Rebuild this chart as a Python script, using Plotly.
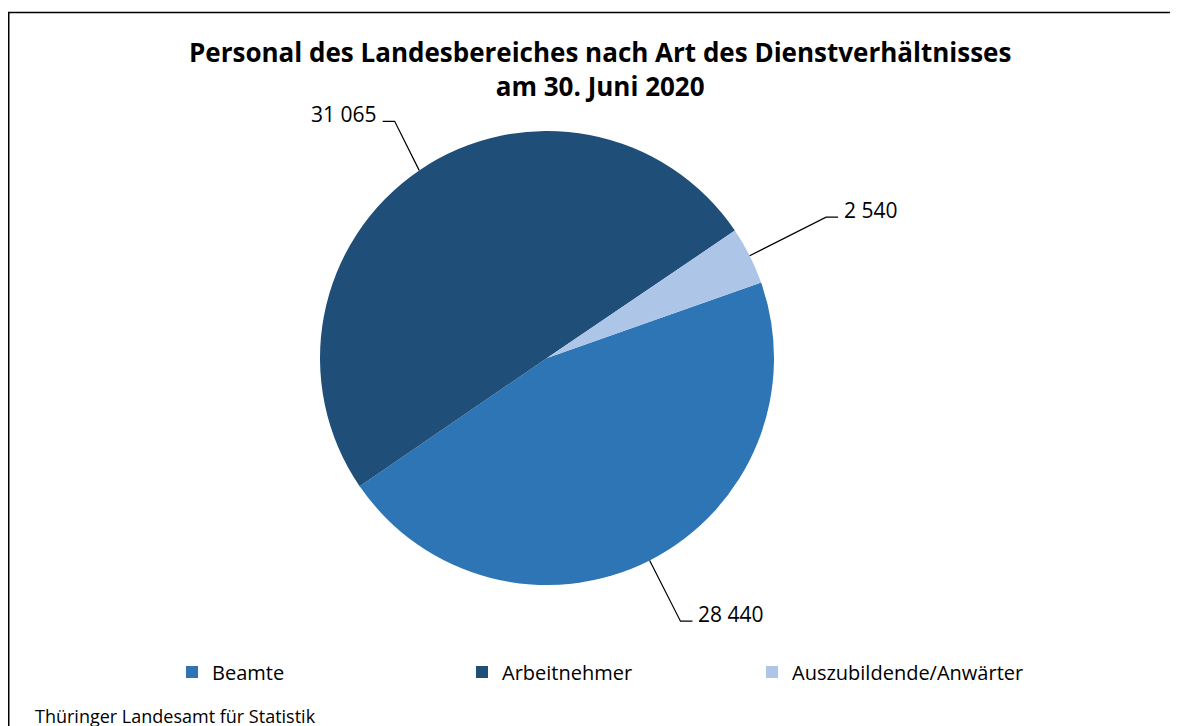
import math
import plotly.graph_objects as go

# ---- data ----
categories = ["Beamte", "Arbeitnehmer", "Auszubildende/Anwärter"]
values = [28440, 31065, 2540]
value_labels = ["28 440", "31 065", "2 540"]

title_text = "<b>Personal des Landesbereiches nach Art des Dienstverhältnisses<br>am 30. Juni 2020</b>"
source_text = "Thüringer Landesamt für Statistik"

# ---- style ----
colors = ["#2E75B6", "#1F4E79", "#ADC6E7"]
FONT = "Open Sans"
W, H = 1178, 726
OFF = 8                            # page offset of the figure (body margin)
cx, cy, R = 547, 358, 227          # pie centre / radius in page pixels
rotation = 70.6                    # start angle of first slice (clockwise from 12 o'clock)
elbow_factor = [1.30, 1.24, 1.377] # leader line elbow radius / R
elbow_turn = [0.0, 1.5, 0.0]       # small angular tweak of the elbow (degrees)
label_side = [1, -1, 1]            # +1 label to the right, -1 to the left


def px(x):
    return (x - OFF) / W


def py(y):
    return 1 - (y - OFF) / H


fig = go.Figure()
fig.add_trace(go.Pie(
    labels=categories,
    values=values,
    sort=False,
    direction="clockwise",
    rotation=rotation,
    marker=dict(colors=colors, line=dict(width=0)),
    textinfo="none",
    hoverinfo="label+value",
    domain=dict(x=[px(cx - R), px(cx + R)], y=[py(cy + R), py(cy - R)]),
))

# leader lines + value labels computed from the slice angles
total = sum(values)
cum = 0.0
shapes = []
annotations = []
for v, lab, f, turn, side in zip(values, value_labels, elbow_factor, elbow_turn, label_side):
    mid_deg = rotation + 360.0 * (cum + v / 2.0) / total
    cum += v
    mid = math.radians(mid_deg)
    el = math.radians(mid_deg + turn)
    x0 = cx + R * math.sin(mid)
    y0 = cy - R * math.cos(mid)
    x1 = cx + R * f * math.sin(el)
    y1 = cy - R * f * math.cos(el)
    x2 = x1 + side * 12
    shapes.append(dict(
        type="path", xref="paper", yref="paper",
        path=f"M {px(x0)},{py(y0)} L {px(x1)},{py(y1)} L {px(x2)},{py(y1)}",
        line=dict(color="#000000", width=1.2),
    ))
    annotations.append(dict(
        xref="paper", yref="paper",
        x=px(x2 + side * 4), y=py(y1 - 7),
        xanchor="left" if side > 0 else "right", yanchor="middle",
        text=lab, showarrow=False,
        font=dict(family=FONT, size=21, color="#000000"),
    ))

# frame
shapes.append(dict(
    type="rect", xref="paper", yref="paper",
    x0=px(8.75), x1=px(1177), y0=-0.05, y1=py(12.5),
    line=dict(color="#000000", width=1.5), fillcolor="rgba(0,0,0,0)",
    layer="below",
))

# title
annotations.append(dict(
    xref="paper", yref="paper", x=px(600), y=py(69),
    xanchor="center", yanchor="middle",
    text=title_text, showarrow=False,
    font=dict(family=FONT, size=26, color="#000000"),
))
# source
annotations.append(dict(
    xref="paper", yref="paper", x=px(33), y=py(716),
    xanchor="left", yanchor="middle",
    text=source_text, showarrow=False,
    font=dict(family=FONT, size=18, color="#000000"),
))

fig.update_layout(
    width=W, height=H,
    margin=dict(l=0, r=0, t=0, b=0),
    paper_bgcolor="white",
    plot_bgcolor="white",
    shapes=shapes,
    annotations=annotations,
    showlegend=True,
    legend=dict(
        orientation="h",
        x=px(172), y=py(672),
        xanchor="left", yanchor="middle",
        font=dict(family=FONT, size=20, color="#000000"),
        entrywidth=245, entrywidthmode="pixels",
        bgcolor="rgba(0,0,0,0)",
    ),
)

fig.write_html("out.html")
